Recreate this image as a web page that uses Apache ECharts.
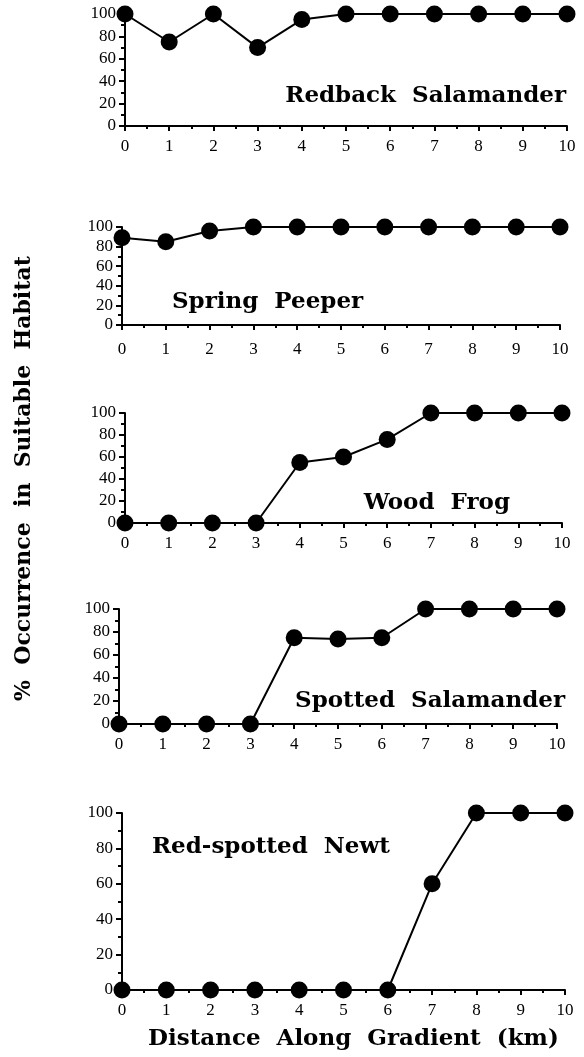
<!DOCTYPE html>
<html>
<head>
<meta charset="utf-8">
<script src="https://cdn.jsdelivr.net/npm/echarts@6/dist/echarts.min.js"></script>
<style>
html,body{margin:0;padding:0;background:#fff;}
#chart{width:584px;height:1057px;}
</style>
</head>
<body>
<div id="chart"></div>
<script>
// ---- data ----
var distance = [0, 1, 2, 3, 4, 5, 6, 7, 8, 9, 10];
var redback = [100, 75, 100, 70, 95, 100, 100, 100, 100, 100, 100];
var springPeeper = [89, 85, 96, 100, 100, 100, 100, 100, 100, 100, 100];
var woodFrog = [0, 0, 0, 0, 55, 60, 76, 100, 100, 100, 100];
var spottedSalamander = [0, 0, 0, 0, 75, 74, 75, 100, 100, 100, 100];
var redSpottedNewt = [0, 0, 0, 0, 0, 0, 0, 60, 100, 100, 100];
var speciesNames = ['Redback  Salamander', 'Spring  Peeper', 'Wood  Frog', 'Spotted  Salamander', 'Red-spotted  Newt'];
var xTicks = [0, 1, 2, 3, 4, 5, 6, 7, 8, 9, 10];
var yTicks = [0, 20, 40, 60, 80, 100];
var xTitle = 'Distance  Along  Gradient  (km)';
var yTitle = '%  Occurrence  in  Suitable  Habitat';

var seriesData = [redback, springPeeper, woodFrog, spottedSalamander, redSpottedNewt];

// ---- layout (pixels) ----
var grids = [
  {left: 125, top: 14, right: 584 - 567, height: 112},
  {left: 122, top: 227, right: 584 - 560, height: 98},
  {left: 125, top: 413, right: 584 - 562, height: 110},
  {left: 119, top: 609, right: 584 - 557, height: 115},
  {left: 122, top: 813, right: 584 - 565, height: 177}
];
var labelMargin = [12, 16, 12, 12, 12];
var titlePos = [
  {right: 18, top: 85},
  {left: 172, top: 291},
  {right: 74, top: 492},
  {right: 19, top: 690},
  {left: 152, top: 836}
];

var serif = 'DejaVu Serif';
var tickFont = 'Liberation Serif';
var option = {
  animation: false,
  backgroundColor: '#fff',
  grid: grids,
  xAxis: [], yAxis: [], series: [], title: [],
  graphic: [
    {type: 'text', left: 148, top: 1028, style: {text: xTitle, font: 'bold 23px "DejaVu Serif"', fill: '#000'}},
    {type: 'text', x: 13, y: 701, rotation: Math.PI / 2, style: {text: yTitle, font: 'bold 22px "DejaVu Serif"', fill: '#000'}}
  ]
};
for (var i = 0; i < 5; i++) {
  option.xAxis.push({
    type: 'value', gridIndex: i, min: xTicks[0], max: xTicks[xTicks.length - 1], interval: 1,
    axisLine: {show: true, onZero: false, lineStyle: {color: '#000', width: 2}},
    axisTick: {show: true, inside: false, length: 5, lineStyle: {color: '#000', width: 2}},
    minorTick: {show: true, splitNumber: 2, length: 3, lineStyle: {color: '#000', width: 2}},
    axisLabel: {color: '#000', fontFamily: tickFont, fontSize: 17, margin: labelMargin[i]},
    splitLine: {show: false}
  });
  option.yAxis.push({
    type: 'value', gridIndex: i, min: yTicks[0], max: yTicks[yTicks.length - 1], interval: 20,
    axisLine: {show: true, lineStyle: {color: '#000', width: 2}},
    axisTick: {show: true, inside: false, length: 6, lineStyle: {color: '#000', width: 2}},
    minorTick: {show: true, splitNumber: 2, length: 4, lineStyle: {color: '#000', width: 2}},
    axisLabel: {color: '#000', fontFamily: tickFont, fontSize: 17, margin: 9},
    splitLine: {show: false}
  });
  option.series.push({
    type: 'line', xAxisIndex: i, yAxisIndex: i,
    data: distance.map(function (d, k) { return [d, seriesData[i][k]]; }),
    symbol: 'circle', symbolSize: 17, clip: false,
    itemStyle: {color: '#000'},
    lineStyle: {color: '#000', width: 2}
  });
  var t = {text: speciesNames[i], textStyle: {fontFamily: serif, fontWeight: 'bold', fontSize: 23, color: '#000'}, padding: 0};
  for (var k in titlePos[i]) t[k] = titlePos[i][k];
  option.title.push(t);
}
var chart = echarts.init(document.getElementById('chart'), null, {renderer: 'canvas'});
chart.setOption(option);
</script>
</body>
</html>
